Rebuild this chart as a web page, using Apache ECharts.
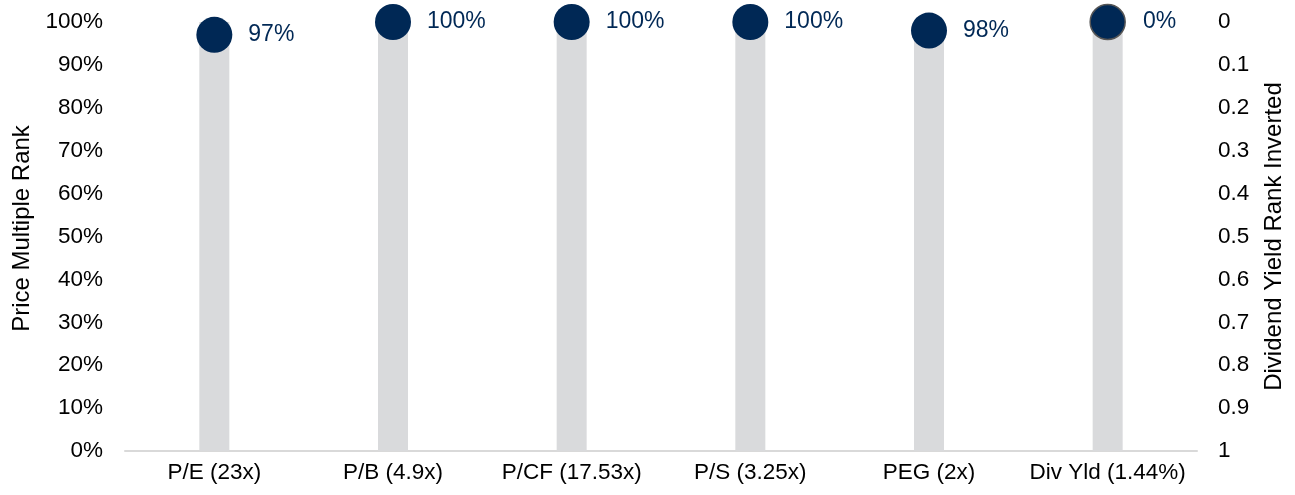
<!DOCTYPE html>
<html><head><meta charset="utf-8">
<script src="https://cdn.jsdelivr.net/npm/echarts@6/dist/echarts.min.js"></script>
<style>html,body{margin:0;padding:0;background:#fff}#c{width:1295px;height:495px}</style>
</head><body><div id="c"></div>
<script>
const categories = ['P/E (23x)', 'P/B (4.9x)', 'P/CF (17.53x)', 'P/S (3.25x)', 'PEG (2x)', 'Div Yld (1.44%)'];
const priceRank = [0.97, 1.00, 1.00, 1.00, 0.98, null];
const divYieldRank = [null, null, null, null, null, 0];
const barFull = [1, 1, 1, 1, 1, 1];

const font = 'Liberation Sans, Arial, sans-serif';
const navy = '#002855';
const chart = echarts.init(document.getElementById('c'));
chart.setOption({
  animation: false,
  grid: { left: 125, right: 98, top: 22, bottom: 44 },
  xAxis: {
    type: 'category', data: categories,
    axisLine: { lineStyle: { color: '#d9d9d9', width: 2 } },
    axisTick: { show: false },
    axisLabel: { color: '#000', fontSize: 22.5, fontFamily: font, margin: 10, interval: 0, hideOverlap: false }
  },
  yAxis: [{
    type: 'value', min: 0, max: 1, interval: 0.1,
    name: 'Price Multiple Rank', nameLocation: 'middle', nameGap: 90, nameRotate: 90,
    nameTextStyle: { color: '#000', fontSize: 24, fontFamily: font, padding: [0, 0, 0, 16] },
    axisLine: { show: false }, axisTick: { show: false }, splitLine: { show: false },
    axisLabel: { color: '#000', fontSize: 22.5, fontFamily: font, margin: 22,
      formatter: v => Math.round(v * 100) + '%' }
  }, {
    type: 'value', min: 0, max: 1, interval: 0.1, inverse: true,
    name: 'Dividend Yield Rank Inverted', nameLocation: 'middle', nameGap: 65, nameRotate: 90,
    nameTextStyle: { color: '#000', fontSize: 24, fontFamily: font },
    axisLine: { show: false }, axisTick: { show: false }, splitLine: { show: false },
    axisLabel: { color: '#000', fontSize: 22.5, fontFamily: font, margin: 21,
      formatter: v => String(Math.round(v * 10) / 10) }
  }],
  series: [{
    type: 'bar', data: barFull, barWidth: 30, yAxisIndex: 0,
    itemStyle: { color: '#d9dadc' }, silent: true, z: 1
  }, {
    type: 'scatter', data: priceRank, yAxisIndex: 0, symbolSize: 36, z: 3,
    itemStyle: { color: navy, opacity: 1 },
    label: { show: true, position: 'right', distance: 16, color: navy, fontSize: 23, fontFamily: font,
      formatter: p => Math.round(p.value * 100) + '%' }
  }, {
    type: 'scatter', data: divYieldRank, yAxisIndex: 1, symbolSize: 35, z: 3,
    itemStyle: { color: navy, opacity: 1, borderColor: '#555', borderWidth: 1.5 },
    label: { show: true, position: 'right', distance: 17, color: navy, fontSize: 23, fontFamily: font,
      formatter: p => Math.round(p.value * 100) + '%' }
  }]
});
</script></body></html>
